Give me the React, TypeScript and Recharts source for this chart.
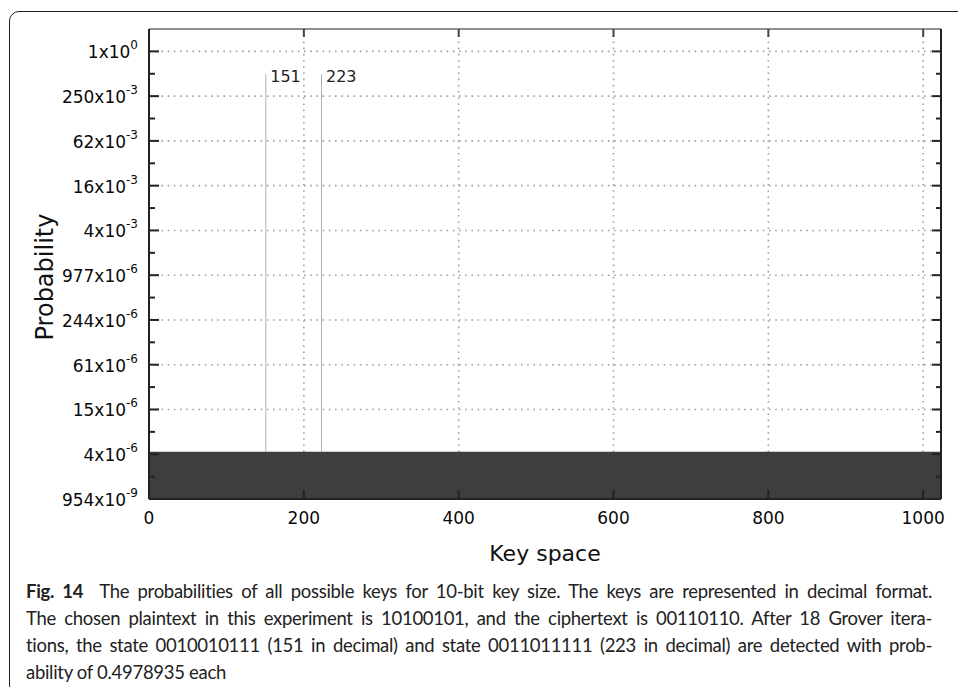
import {
  Area,
  Bar,
  CartesianGrid,
  ComposedChart,
  LabelList,
  XAxis,
  YAxis,
} from "recharts";

// keys 0..1023 (10-bit key space)
const KEY_COUNT = 1024;
const PEAK_KEYS = [151, 223];
const PEAK_PROBS = [0.4978935, 0.4978935];
// every other key sits just above 4x10^-6
const REST_PROB = 4.12e-6;

const X_TICKS = [0, 200, 400, 600, 800, 1000];
const X_GRID = [200, 400, 600, 800, 1000];
const Y_MAJOR = [
  1, 0.25, 0.0625, 0.015625, 0.00390625, 9.765625e-4, 2.44140625e-4,
  6.103515625e-5, 1.52587890625e-5, 3.814697265625e-6, 9.5367431640625e-7,
];
const Y_MINOR = [
  0.5, 0.125, 0.03125, 0.0078125, 0.001953125, 4.8828125e-4, 1.220703125e-4,
  3.0517578125e-5, 7.62939453125e-6, 1.9073486328125e-6,
];
const Y_MANTISSA = ["1", "250", "62", "16", "4", "977", "244", "61", "15", "4", "954"];
const Y_EXPONENT = ["0", "-3", "-3", "-3", "-3", "-6", "-6", "-6", "-6", "-6", "-9"];
const Y_DOMAIN = [9.5367431640625e-7, 2];
const Y_TICKS = [...Y_MAJOR, ...Y_MINOR];

const CAPTION_LINES = [
  "The chosen plaintext in this experiment is 10100101, and the ciphertext is 00110110. After 18 Grover itera-",
  "tions, the state 0010010111 (151 in decimal) and state 0011011111 (223 in decimal) are detected with prob-",
];

const rows = Array.from({ length: KEY_COUNT }, (_, key) => {
  const i = PEAK_KEYS.indexOf(key);
  return {
    key,
    band: REST_PROB,
    peak: i >= 0 ? [REST_PROB, PEAK_PROBS[i]] : null,
    peakLabel: i >= 0 ? String(key) : null,
  };
});

const AXIS_FONT = "'DejaVu Sans', Verdana, sans-serif";

function LeftTick({ x, y, payload }: any) {
  const i = Y_MAJOR.indexOf(payload.value);
  const major = i >= 0;
  return (
    <g>
      <line x1={x} x2={x + (major ? 10 : 6)} y1={y} y2={y} stroke="#222" strokeWidth={2} />
      {major && (
        <text x={x - 11} y={y + 7} textAnchor="end" fontSize={17} fill="#0a0a0a" fontFamily={AXIS_FONT}>
          {Y_MANTISSA[i]}x10
          <tspan dy={-9} fontSize={12}>
            {Y_EXPONENT[i]}
          </tspan>
        </text>
      )}
    </g>
  );
}

function RightTick({ x, y, payload }: any) {
  const major = Y_MAJOR.indexOf(payload.value) >= 0;
  return <line x1={x} x2={x - (major ? 9 : 5)} y1={y} y2={y} stroke="#222" strokeWidth={2} />;
}

function BottomTick({ x, y, payload }: any) {
  return (
    <g>
      <line x1={x} x2={x} y1={y} y2={y - 9} stroke="#222" strokeWidth={2} />
      <text x={x} y={y + 25} textAnchor="middle" fontSize={17} fill="#0a0a0a" fontFamily={AXIS_FONT}>
        {payload.value}
      </text>
    </g>
  );
}

function TopTick({ x, y }: any) {
  return <line x1={x} x2={x} y1={y} y2={y + 8} stroke="#444" strokeWidth={2} />;
}

function PeakLabel(props: any) {
  const { x, y, width, value } = props;
  if (value == null || !Number.isFinite(x) || !Number.isFinite(y)) return null;
  return (
    <text x={x + width + 4} y={y + 8} fontSize={16} fill="#222" fontFamily={AXIS_FONT}>
      {value}
    </text>
  );
}

export default function App() {
  return (
    <div
      style={{
        position: "fixed",
        inset: 0,
        overflow: "hidden",
        background: "#fff",
      }}
    >
      <div
        style={{
          position: "absolute",
          left: 9,
          top: 11,
          width: 1000,
          height: 682,
          border: "1px solid #222",
          borderRadius: "10px 0 0 10px",
        }}
      />
      <div style={{ position: "absolute", left: 0, top: 0 }}>
        <ComposedChart
          width={958}
          height={570}
          data={rows}
          margin={{ top: 19, right: 7, bottom: 41, left: 0 }}
        >
          <CartesianGrid
            horizontalValues={Y_MAJOR.slice(0, -1)}
            verticalValues={X_GRID}
            stroke="#a0a0a0"
            strokeWidth={1.6}
            strokeDasharray="1.6 4.6"
          />
          <XAxis
            dataKey="key"
            type="number"
            domain={[0, 1023]}
            ticks={X_TICKS}
            interval={0}
            allowDataOverflow
            height={30}
            tickSize={0}
            tickMargin={0}
            tickLine={false}
            tick={<BottomTick />}
            axisLine={{ stroke: "#222", strokeWidth: 2 }}
          />
          <XAxis
            xAxisId="top"
            orientation="top"
            type="number"
            domain={[0, 1023]}
            ticks={X_TICKS.slice(1)}
            interval={0}
            allowDataOverflow
            height={10}
            tickSize={0}
            tickMargin={0}
            tickLine={false}
            tick={<TopTick />}
            axisLine={{ stroke: "#6a6a6a", strokeWidth: 1.5 }}
          />
          <YAxis
            scale="log"
            type="number"
            domain={Y_DOMAIN}
            ticks={Y_TICKS}
            interval={0}
            allowDataOverflow
            width={149}
            tickSize={0}
            tickMargin={0}
            tickLine={false}
            tick={<LeftTick />}
            axisLine={{ stroke: "#222", strokeWidth: 2 }}
          />
          <YAxis
            yAxisId="right"
            orientation="right"
            scale="log"
            type="number"
            domain={Y_DOMAIN}
            ticks={Y_TICKS}
            interval={0}
            allowDataOverflow
            width={10}
            tickSize={0}
            tickMargin={0}
            tickLine={false}
            tick={<RightTick />}
            axisLine={{ stroke: "#222", strokeWidth: 2 }}
          />
          <Area
            dataKey="band"
            type="linear"
            stroke="none"
            fill="#3e3e3e"
            fillOpacity={1}
            isAnimationActive={false}
          />
          <Bar dataKey="peak" barSize={2} fill="#8e8e8e" isAnimationActive={false}>
            <LabelList dataKey="peakLabel" content={<PeakLabel />} />
          </Bar>
        </ComposedChart>
      </div>
      <div
        style={{
          position: "absolute",
          left: 45,
          top: 277,
          transform: "translate(-50%, -50%) rotate(-90deg)",
          fontFamily: AXIS_FONT,
          fontSize: 24,
          color: "#111",
          whiteSpace: "nowrap",
        }}
      >
        Probability
      </div>
      <div
        style={{
          position: "absolute",
          left: 545,
          top: 553,
          transform: "translate(-50%, -50%)",
          fontFamily: AXIS_FONT,
          fontSize: 22,
          color: "#111",
          whiteSpace: "nowrap",
        }}
      >
        Key space
      </div>
      <div
        style={{
          position: "absolute",
          left: 26,
          top: 578,
          width: 906,
          fontFamily: "Lato, 'Open Sans', sans-serif",
          fontSize: 18.5,
          letterSpacing: -0.3,
          lineHeight: "27px",
          color: "#222",
        }}
      >
        <div style={{ textAlign: "justify", textAlignLast: "justify", whiteSpace: "nowrap" }}>
          <b>Fig. 14</b>&nbsp; The probabilities of all possible keys for 10-bit key size. The keys are represented in decimal format.
        </div>
        {CAPTION_LINES.map((line) => (
          <div
            key={line}
            style={{ textAlign: "justify", textAlignLast: "justify", whiteSpace: "nowrap" }}
          >
            {line}
          </div>
        ))}
        <div>ability of 0.4978935 each</div>
      </div>
    </div>
  );
}
